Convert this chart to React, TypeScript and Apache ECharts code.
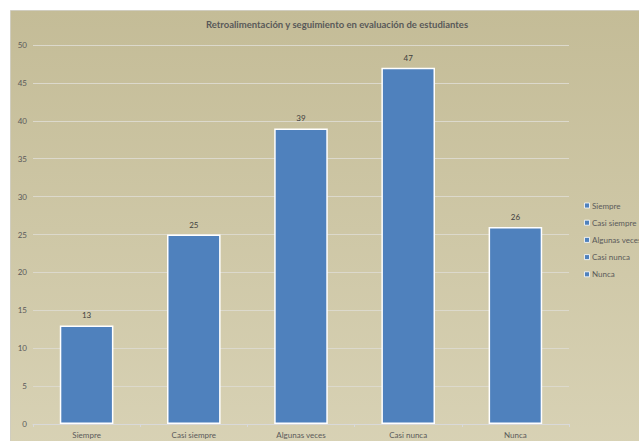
import React, { useEffect, useRef } from "react";
import * as echarts from "echarts";

const categories = ["Siempre", "Casi siempre", "Algunas veces", "Casi nunca", "Nunca"];
const values = [13, 25, 39, 47, 26];
const titleText = "Retroalimentación y seguimiento en evaluación de estudiantes";
const FONT = "Lato, 'Open Sans', sans-serif";
const BLUE = "#4f81bd";

export default function App() {
  const ref = useRef<HTMLDivElement>(null);
  useEffect(() => {
    if (!ref.current) return;
    const chart = echarts.init(ref.current, undefined, { renderer: "svg" });
    const legendGraphics: any[] = [];
    categories.forEach((c, i) => {
      const cy = 205.5 + i * 17.2;
      legendGraphics.push({
        type: "rect",
        shape: { x: 584.5, y: cy - 2.5, width: 5, height: 5 },
        style: { fill: BLUE, stroke: "#ffffff", lineWidth: 0.8 },
        silent: true,
      });
      legendGraphics.push({
        type: "text",
        x: 592,
        y: cy,
        style: {
          text: c,
          fill: "#5a5a5a",
          font: `8px ${FONT}`,
          verticalAlign: "middle",
          textAlign: "left",
        },
        silent: true,
      });
    });
    chart.setOption({
      animation: false,
      backgroundColor: "#ffffff",
      title: {
        text: titleText,
        left: 332,
        top: 14,
        textAlign: "center",
        textStyle: { color: "#595959", fontSize: 9.5, fontWeight: "bold", fontFamily: FONT },
      },
      graphic: [
        {
          type: "rect",
          z: -10,
          shape: { x: 10.5, y: 10.5, width: 640, height: 440 },
          style: {
            fill: new echarts.graphic.LinearGradient(0, 0, 0, 1, [
              { offset: 0, color: "#c4bc97" },
              { offset: 1, color: "#d8d2b5" },
            ]),
            stroke: "#d0cdc0",
            lineWidth: 1,
          },
          silent: true,
        },
        ...legendGraphics,
      ],
      grid: { left: 33, right: 70, top: 45, bottom: 17, containLabel: false },
      xAxis: {
        type: "category",
        data: categories,
        axisLine: { show: true, lineStyle: { color: "#d9d9d9", width: 1 } },
        axisTick: { show: true, length: 3, lineStyle: { color: "#d9d9d9" } },
        axisLabel: { color: "#5a5a5a", fontSize: 8, fontFamily: FONT, margin: 7 },
      },
      yAxis: {
        type: "value",
        min: 0,
        max: 50,
        interval: 5,
        axisLine: { show: false },
        axisTick: { show: false },
        splitLine: { lineStyle: { color: "#dcd9cc", width: 1 } },
        axisLabel: { color: "#5a5a5a", fontSize: 8, fontFamily: FONT, margin: 6 },
      },
      series: [
        {
          type: "bar",
          data: values,
          barWidth: "50%",
          itemStyle: { color: BLUE, borderColor: "#ffffff", borderWidth: 1.5 },
          label: {
            show: true,
            position: "top",
            distance: 6,
            color: "#404040",
            fontSize: 8,
            fontFamily: FONT,
          },
        },
      ],
    });
    return () => chart.dispose();
  }, []);
  return (
    <div
      ref={ref}
      style={{ position: "absolute", left: 0, top: 0, width: 639, height: 441 }}
    />
  );
}
